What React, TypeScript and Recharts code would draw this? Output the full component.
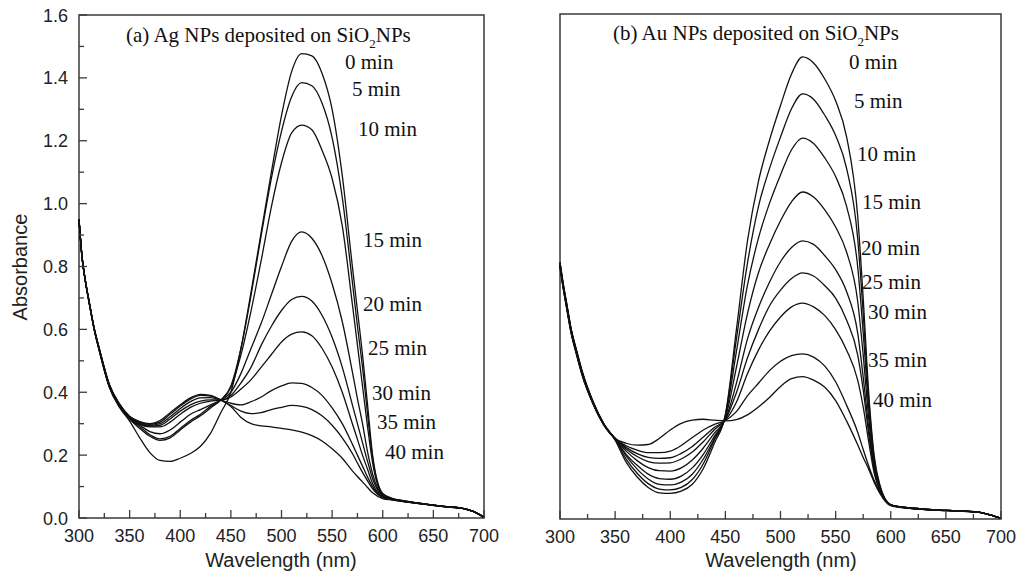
import { LineChart, Line, XAxis, YAxis, ReferenceArea } from "recharts";

// wavelength grid (nm)
const WAVELENGTH = [
  300, 303, 306, 310, 315, 320, 330, 340, 350, 360, 370, 380, 390, 400, 410,
  420, 430, 440, 450, 460, 470, 480, 490, 500, 510, 520, 530, 540, 550, 560,
  570, 575, 580, 585, 590, 600, 610, 620, 640, 660, 680, 690, 700,
];

const TIMES = ["0 min", "5 min", "10 min", "15 min", "20 min", "25 min", "30 min", "35 min", "40 min"];

// (a) Ag NPs deposited on SiO2 NPs
const AG_0 = [0.95, 0.83, 0.76, 0.685, 0.6, 0.532, 0.415, 0.352, 0.308, 0.255, 0.208, 0.183, 0.18, 0.19, 0.205, 0.228, 0.27, 0.335, 0.4, 0.54, 0.72, 0.91, 1.1, 1.28, 1.42, 1.477, 1.47, 1.415, 1.3, 1.09, 0.8, 0.66, 0.52, 0.36, 0.2, 0.078, 0.062, 0.055, 0.045, 0.037, 0.03, 0.02, 0.002];
const AG_5 = [0.95, 0.83, 0.76, 0.685, 0.6, 0.533, 0.417, 0.355, 0.315, 0.285, 0.26, 0.247, 0.255, 0.28, 0.305, 0.325, 0.35, 0.375, 0.42, 0.54, 0.71, 0.9, 1.08, 1.23, 1.34, 1.385, 1.375, 1.32, 1.21, 1.02, 0.75, 0.61, 0.48, 0.33, 0.19, 0.076, 0.061, 0.055, 0.045, 0.037, 0.03, 0.02, 0.002];
const AG_10 = [0.95, 0.83, 0.76, 0.686, 0.6, 0.534, 0.418, 0.356, 0.316, 0.29, 0.265, 0.252, 0.26, 0.285, 0.31, 0.33, 0.355, 0.375, 0.415, 0.52, 0.66, 0.82, 0.99, 1.13, 1.225, 1.25, 1.235, 1.17, 1.08, 0.93, 0.68, 0.55, 0.42, 0.29, 0.175, 0.074, 0.06, 0.054, 0.045, 0.037, 0.03, 0.02, 0.002];
const AG_15 = [0.95, 0.83, 0.76, 0.686, 0.601, 0.535, 0.42, 0.358, 0.317, 0.295, 0.275, 0.268, 0.28, 0.305, 0.33, 0.345, 0.36, 0.375, 0.4, 0.46, 0.54, 0.62, 0.71, 0.8, 0.88, 0.91, 0.89, 0.835, 0.745, 0.625, 0.465, 0.38, 0.3, 0.21, 0.14, 0.072, 0.06, 0.054, 0.045, 0.037, 0.03, 0.02, 0.002];
const AG_20 = [0.95, 0.83, 0.76, 0.687, 0.602, 0.536, 0.421, 0.359, 0.318, 0.298, 0.29, 0.29, 0.305, 0.33, 0.352, 0.365, 0.372, 0.375, 0.39, 0.43, 0.48, 0.55, 0.61, 0.66, 0.695, 0.705, 0.69, 0.645, 0.575, 0.48, 0.36, 0.3, 0.24, 0.18, 0.125, 0.07, 0.059, 0.054, 0.045, 0.037, 0.03, 0.02, 0.002];
const AG_25 = [0.95, 0.83, 0.76, 0.687, 0.602, 0.537, 0.422, 0.36, 0.318, 0.3, 0.292, 0.295, 0.315, 0.34, 0.36, 0.372, 0.376, 0.375, 0.385, 0.41, 0.44, 0.48, 0.52, 0.56, 0.585, 0.592, 0.58, 0.54, 0.48, 0.4, 0.3, 0.25, 0.2, 0.155, 0.11, 0.068, 0.059, 0.053, 0.045, 0.037, 0.03, 0.02, 0.002];
const AG_30 = [0.95, 0.83, 0.76, 0.688, 0.603, 0.538, 0.423, 0.361, 0.32, 0.302, 0.295, 0.3, 0.322, 0.348, 0.37, 0.382, 0.383, 0.375, 0.365, 0.36, 0.37, 0.385, 0.405, 0.42, 0.43, 0.428, 0.415, 0.39, 0.35, 0.3, 0.235, 0.2, 0.165, 0.13, 0.1, 0.066, 0.058, 0.053, 0.044, 0.036, 0.03, 0.02, 0.002];
const AG_35 = [0.95, 0.83, 0.76, 0.688, 0.603, 0.539, 0.424, 0.362, 0.322, 0.305, 0.298, 0.305, 0.33, 0.356, 0.378, 0.39, 0.388, 0.376, 0.358, 0.34, 0.332, 0.335, 0.345, 0.352, 0.358, 0.355, 0.345, 0.325, 0.295, 0.255, 0.205, 0.175, 0.145, 0.118, 0.093, 0.065, 0.058, 0.053, 0.044, 0.036, 0.03, 0.02, 0.002];
const AG_40 = [0.95, 0.83, 0.76, 0.689, 0.604, 0.54, 0.425, 0.363, 0.324, 0.307, 0.3, 0.31, 0.335, 0.36, 0.382, 0.393, 0.39, 0.375, 0.355, 0.32, 0.3, 0.293, 0.29, 0.285, 0.28, 0.273, 0.262, 0.245, 0.22, 0.19, 0.15, 0.132, 0.115, 0.097, 0.08, 0.062, 0.057, 0.052, 0.044, 0.036, 0.03, 0.02, 0.002];

// (b) Au NPs deposited on SiO2 NPs
const AU_0 = [0.815, 0.745, 0.685, 0.605, 0.535, 0.47, 0.372, 0.3, 0.25, 0.18, 0.133, 0.1, 0.083, 0.081, 0.088, 0.11, 0.16, 0.24, 0.33, 0.6, 0.88, 1.07, 1.2, 1.31, 1.41, 1.464, 1.445, 1.395, 1.325, 1.21, 0.96, 0.7, 0.4, 0.2, 0.11, 0.045, 0.038, 0.034, 0.029, 0.026, 0.022, 0.013, 0.002];
const AU_5 = [0.812, 0.742, 0.683, 0.603, 0.533, 0.468, 0.371, 0.3, 0.252, 0.19, 0.145, 0.112, 0.095, 0.092, 0.1, 0.125, 0.175, 0.25, 0.33, 0.57, 0.81, 0.99, 1.11, 1.21, 1.3, 1.347, 1.33, 1.28, 1.215, 1.11, 0.89, 0.65, 0.38, 0.19, 0.105, 0.045, 0.038, 0.034, 0.029, 0.026, 0.022, 0.013, 0.002];
const AU_10 = [0.81, 0.74, 0.68, 0.601, 0.531, 0.466, 0.37, 0.299, 0.253, 0.2, 0.158, 0.127, 0.11, 0.108, 0.117, 0.142, 0.19, 0.255, 0.325, 0.53, 0.74, 0.89, 1.0, 1.09, 1.17, 1.207, 1.19, 1.145, 1.085, 0.99, 0.8, 0.59, 0.35, 0.18, 0.1, 0.045, 0.038, 0.034, 0.029, 0.026, 0.022, 0.013, 0.002];
const AU_15 = [0.808, 0.738, 0.678, 0.6, 0.53, 0.465, 0.369, 0.299, 0.254, 0.205, 0.17, 0.142, 0.128, 0.126, 0.136, 0.162, 0.205, 0.262, 0.32, 0.48, 0.65, 0.78, 0.87, 0.945, 1.005, 1.036, 1.02, 0.98, 0.925, 0.845, 0.69, 0.52, 0.32, 0.17, 0.1, 0.045, 0.038, 0.034, 0.029, 0.026, 0.022, 0.013, 0.002];
const AU_20 = [0.806, 0.736, 0.676, 0.598, 0.528, 0.463, 0.368, 0.298, 0.255, 0.215, 0.185, 0.163, 0.153, 0.152, 0.162, 0.187, 0.225, 0.272, 0.315, 0.43, 0.57, 0.67, 0.75, 0.815, 0.86, 0.881, 0.87, 0.835, 0.79, 0.72, 0.59, 0.45, 0.29, 0.16, 0.095, 0.044, 0.037, 0.034, 0.029, 0.026, 0.022, 0.013, 0.002];
const AU_25 = [0.804, 0.734, 0.674, 0.596, 0.526, 0.461, 0.367, 0.298, 0.255, 0.222, 0.198, 0.182, 0.177, 0.178, 0.19, 0.212, 0.245, 0.283, 0.315, 0.4, 0.51, 0.6, 0.675, 0.725, 0.762, 0.78, 0.77, 0.74, 0.7, 0.63, 0.52, 0.41, 0.27, 0.155, 0.095, 0.044, 0.037, 0.033, 0.029, 0.026, 0.022, 0.013, 0.002];
const AU_30 = [0.802, 0.732, 0.672, 0.594, 0.524, 0.46, 0.366, 0.297, 0.255, 0.227, 0.207, 0.195, 0.192, 0.194, 0.208, 0.23, 0.26, 0.29, 0.313, 0.37, 0.46, 0.535, 0.595, 0.64, 0.672, 0.684, 0.672, 0.645, 0.6, 0.535, 0.44, 0.355, 0.245, 0.145, 0.09, 0.044, 0.037, 0.033, 0.028, 0.026, 0.022, 0.013, 0.002];
const AU_35 = [0.8, 0.73, 0.67, 0.592, 0.522, 0.458, 0.365, 0.297, 0.255, 0.232, 0.218, 0.21, 0.21, 0.215, 0.233, 0.258, 0.282, 0.3, 0.312, 0.34, 0.39, 0.43, 0.47, 0.5, 0.518, 0.523, 0.513, 0.485, 0.435, 0.36, 0.275, 0.22, 0.168, 0.122, 0.086, 0.043, 0.037, 0.033, 0.028, 0.025, 0.021, 0.013, 0.002];
const AU_40 = [0.798, 0.728, 0.668, 0.59, 0.52, 0.456, 0.364, 0.296, 0.255, 0.24, 0.234, 0.236, 0.255, 0.282, 0.303, 0.313, 0.316, 0.313, 0.311, 0.315, 0.33, 0.355, 0.385, 0.42, 0.445, 0.451, 0.44, 0.418, 0.375, 0.31, 0.235, 0.195, 0.158, 0.116, 0.082, 0.042, 0.036, 0.033, 0.028, 0.025, 0.021, 0.013, 0.002];

const AG_SERIES = [AG_0, AG_5, AG_10, AG_15, AG_20, AG_25, AG_30, AG_35, AG_40];
const AU_SERIES = [AU_0, AU_5, AU_10, AU_15, AU_20, AU_25, AU_30, AU_35, AU_40];

const X_TICKS = [300, 325, 350, 375, 400, 425, 450, 475, 500, 525, 550, 575, 600, 625, 650, 675, 700];
const Y_TICKS = [0, 0.1, 0.2, 0.3, 0.4, 0.5, 0.6, 0.7, 0.8, 0.9, 1.0, 1.1, 1.2, 1.3, 1.4, 1.5, 1.6];

const FRAME = "#3a3a3a";
const INK = "#111";
const SANS = "'Liberation Sans', Arial, sans-serif";
const SERIF = "'Liberation Serif', 'Times New Roman', serif";

function buildRows(series: number[][]) {
  return WAVELENGTH.map((nm, i) => {
    const row: Record<string, number> = { nm };
    series.forEach((s, k) => {
      row[`t${k}`] = s[i];
    });
    return row;
  });
}

const agRows = buildRows(AG_SERIES);
const auRows = buildRows(AU_SERIES);

// inward ticks: long on labelled values, short in between
function XTick(props: any) {
  const { x, y, payload } = props;
  const major = payload.value % 50 === 0;
  const len = major ? 8 : 5;
  return (
    <g>
      <path d={`M${x},${y}L${x},${y - len}`} stroke={FRAME} strokeWidth={1.3} fill="none" />
      {major && (
        <text x={x} y={y + 24} textAnchor="middle" fontFamily={SANS} fontSize={18} fill="#222" stroke="none">
          {payload.value}
        </text>
      )}
    </g>
  );
}

function YTick(props: any) {
  const { x, y, payload } = props;
  const major = Math.round(payload.value * 10) % 2 === 0;
  const len = major ? 8 : 5;
  return (
    <g>
      <path d={`M${x},${y}L${x + len},${y}`} stroke={FRAME} strokeWidth={1.3} fill="none" />
      {major && (
        <text x={x - 11} y={y + 6.5} textAnchor="end" fontFamily={SANS} fontSize={18} fill="#222" stroke="none">
          {payload.value.toFixed(1)}
        </text>
      )}
    </g>
  );
}

function renderSpectra() {
  return TIMES.map((t, k) => (
    <Line
      key={t}
      type="monotone"
      dataKey={`t${k}`}
      stroke={INK}
      strokeWidth={1.3}
      dot={false}
      activeDot={false}
      isAnimationActive={false}
    />
  ));
}

const AG_LABELS: [number, number][] = [
  [345, 62], [352, 89], [358, 129], [363, 240], [363, 304], [368, 348], [372, 393], [377, 422], [385, 452],
];
const AU_LABELS: [number, number][] = [
  [849, 62], [854, 101], [857, 154], [862, 202], [861, 248], [862, 282], [868, 312], [868, 360], [873, 400],
];

export default function App() {
  return (
    <div style={{ position: "absolute", left: 0, top: 0, width: 1018, height: 575, background: "#fff" }}>
      <div style={{ position: "absolute", left: 0, top: 0 }}>
        <LineChart width={500} height={575} data={agRows} margin={{ top: 15, right: 16, bottom: 27, left: 34 }}>
          <ReferenceArea x1={300} x2={700} y1={0} y2={1.6} fill="none" stroke={FRAME} strokeWidth={1.5} ifOverflow="visible" />
          <XAxis
            type="number"
            dataKey="nm"
            domain={[300, 700]}
            ticks={X_TICKS}
            interval={0}
            height={30}
            axisLine={false}
            tickLine={false}
            tickSize={0}
            tickMargin={0}
            tick={<XTick />}
          />
          <YAxis
            type="number"
            domain={[0, 1.6]}
            ticks={Y_TICKS}
            interval={0}
            width={45}
            axisLine={false}
            tickLine={false}
            tickSize={0}
            tickMargin={0}
            tick={<YTick />}
          />
          {renderSpectra()}
        </LineChart>
      </div>
      <div style={{ position: "absolute", left: 500, top: 0 }}>
        <LineChart width={518} height={575} data={auRows} margin={{ top: 14, right: 17, bottom: 26, left: 60 }}>
          <ReferenceArea x1={300} x2={700} y1={0} y2={1.6} fill="none" stroke={FRAME} strokeWidth={1.5} ifOverflow="visible" />
          <XAxis
            type="number"
            dataKey="nm"
            domain={[300, 700]}
            ticks={X_TICKS}
            interval={0}
            height={30}
            axisLine={false}
            tickLine={false}
            tickSize={0}
            tickMargin={0}
            tick={<XTick />}
          />
          <YAxis type="number" domain={[0, 1.6]} hide />
          {renderSpectra()}
        </LineChart>
      </div>
      <svg width={1018} height={575} style={{ position: "absolute", left: 0, top: 0, pointerEvents: "none" }}>
        <g fontFamily={SERIF} fontSize={21} fill={INK}>
          <text x={126} y={42}>
            (a) Ag NPs deposited on SiO<tspan dy={6} fontSize={13}>2</tspan>
            <tspan dy={-6}>NPs</tspan>
          </text>
          <text x={613} y={40}>
            (b) Au NPs deposited on SiO<tspan dy={6} fontSize={13}>2</tspan>
            <tspan dy={-6}>NPs</tspan>
          </text>
          {AG_LABELS.map(([x, y], k) => (
            <text key={`a${k}`} x={x} y={y + 7}>{TIMES[k]}</text>
          ))}
          {AU_LABELS.map(([x, y], k) => (
            <text key={`b${k}`} x={x} y={y + 7}>{TIMES[k]}</text>
          ))}
        </g>
        <g fontFamily={SANS} fontSize={20} fill="#222">
          <text x={281} y={567} textAnchor="middle">Wavelength (nm)</text>
          <text x={781} y={567} textAnchor="middle">Wavelength (nm)</text>
          <text transform="translate(27,267) rotate(-90)" textAnchor="middle">Absorbance</text>
        </g>
      </svg>
    </div>
  );
}
